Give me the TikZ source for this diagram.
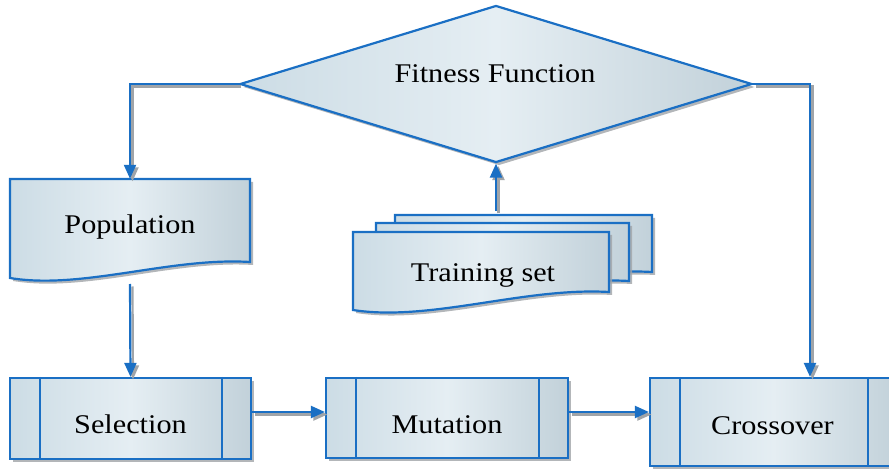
\documentclass[tikz,border=0pt]{standalone}
\usepackage{fontspec}
\setmainfont{Liberation Serif}[FakeStretch=1.12]
\usetikzlibrary{shapes.geometric,arrows.meta,shadows}

\definecolor{edgeblue}{HTML}{1A6FC4}
\definecolor{fillout}{HTML}{CCDCE5}
\definecolor{fillmid}{HTML}{E5EEF3}
\definecolor{shadowgray}{HTML}{A0A4A8}

\tikzset{
  shapefill/.style={left color=fillout, right color=fillout!95!black, middle color=fillmid},
  outline/.style={draw=edgeblue, line width=2.2pt, line join=miter},
  shadowed/.style={drop shadow={shadow xshift=3pt, shadow yshift=-3pt, fill=shadowgray, opacity=0.8}},
  procbox/.style={rectangle, outline, shapefill, shadowed, inner sep=0pt},
  decision/.style={diamond, outline, shapefill, shadowed, inner sep=0pt},
  docshape/.style={outline, shapefill, shadowed},
  panel/.style={draw=edgeblue, line width=2.2pt},
  label/.style={font=\fontsize{27}{30}\selectfont, anchor=base, inner sep=0pt},
  tip/.style={-{Triangle[length=14pt,width=12pt]}},
  conn/.style={draw=edgeblue, line width=2.2pt, tip,
    preaction={draw=shadowgray, line width=2.2pt, tip,
      transform canvas={xshift=2.5pt,yshift=-2.5pt}}},
}

% document shape with a wavy lower edge: left, top, right, right-bottom, left-bottom
\newcommand\wavydoc[5]{%
  \path[docshape] (#1,#2) -- (#3,#2) -- (#3,#4)
    .. controls ({#3-0.33*(#3-#1)},{#4-5}) and ({#1+0.3*(#3-#1)},{#5+12}) .. (#1,#5)
    -- cycle;}

\begin{document}
\begin{tikzpicture}[x=1pt,y=-1pt]
  \clip (0,0) rectangle (889,470);

  % decision diamond
  \node[decision, shape aspect=3.26, minimum width=512pt, minimum height=157pt]
    (fit) at (496,84) {};
  \node[label] (fitt) at (495,83) {Fitness Function};

  % population document
  \wavydoc{10}{179}{250}{262}{278}
  \node[minimum width=240pt, minimum height=83pt, inner sep=0pt] (pop) at (130,220.5) {};
  \node[label] (popt) at (130,234) {Population};
  \coordinate (popbot) at (130,284);

  % stacked training-set documents
  \wavydoc{395}{215}{652}{272}{290}
  \wavydoc{376}{223}{629}{281}{300}
  \wavydoc{353}{232}{609}{292}{310}
  \node[label] (traint) at (483,282) {Training set};
  \coordinate (traintop) at (496,211);

  % process boxes with side panels
  \node[procbox, minimum width=241pt, minimum height=81pt] (sel) at (130.5,418.5) {};
  \node[procbox, minimum width=242pt, minimum height=80pt] (mut) at (447,418) {};
  \node[procbox, minimum width=247pt, minimum height=88pt] (cross) at (773.5,422) {};
  \foreach \b in {sel,mut,cross} {
    \draw[panel] ([xshift=31pt]\b.north west) -- ([xshift=31pt]\b.south west);
    \draw[panel] ([xshift=-30pt]\b.north east) -- ([xshift=-30pt]\b.south east);
  }
  \node[label] (selt) at (130.5,433) {Selection};
  \node[label] (mutt) at (447,433) {Mutation};
  \node[label] (crosst) at (772.5,434) {Crossover};

  % connectors
  \draw[conn] (fit.west) -| (pop.north);
  \draw[conn] (fit.east) -| ([xshift=36.5pt]cross.north);
  \draw[conn] (traintop) -- (fit.south);
  \draw[conn] (popbot) -- (sel.north);
  \draw[conn] ([yshift=6.5pt]sel.east) -- ([yshift=6pt]mut.west);
  \draw[conn] ([yshift=6pt]mut.east) -- ([yshift=10pt]cross.west);
\end{tikzpicture}
\end{document}
